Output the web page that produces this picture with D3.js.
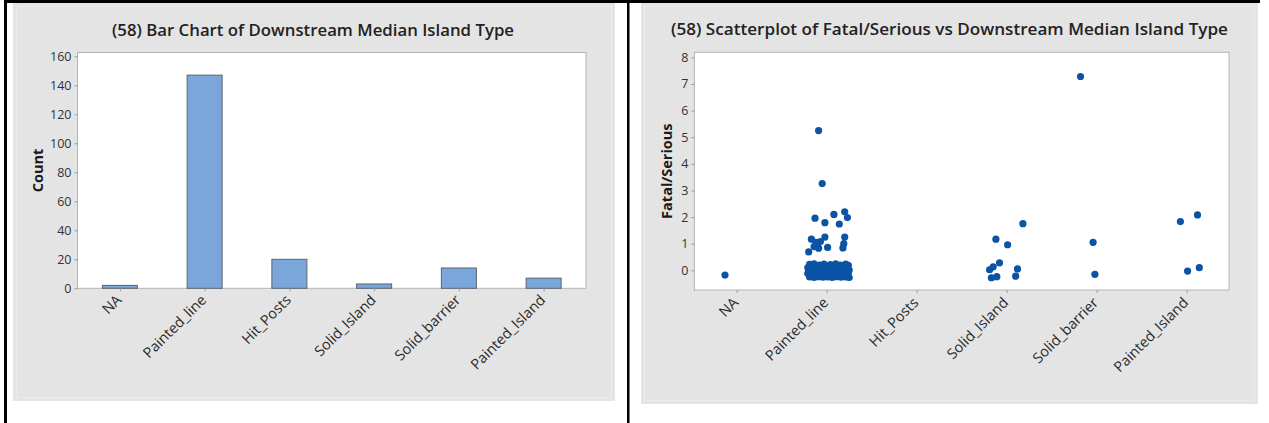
<!DOCTYPE html>
<html>
<head>
<meta charset="utf-8">
<script src="https://cdn.jsdelivr.net/npm/d3@7/dist/d3.min.js"></script>
<style>
  html, body { margin: 0; padding: 0; background: #ffffff; }
  svg { display: block; }
  text { font-family: "Open Sans", "Noto Sans", sans-serif; }
</style>
</head>
<body>
<svg id="chart" width="1269" height="423"></svg>
<script>
// Island type categories shared by both panels
const categories = ["NA", "Painted_line", "Hit_Posts", "Solid_Island", "Solid_barrier", "Painted_Island"];

// Bar chart: record count per downstream median island type
const counts = [2, 147, 20, 3, 14, 7];
const countTicks = [0, 20, 40, 60, 80, 100, 120, 140, 160];

// Scatterplot: Fatal/Serious values, each with its horizontal jitter (fraction of a category step)
const naPoints = [[-0.13, -0.18]];
const paintedLinePoints = [
  [-0.09, 5.25], [-0.05, 3.26],
  [-0.13, 1.96], [-0.02, 1.79], [0.08, 2.10], [0.14, 1.74], [0.20, 2.20], [0.23, 1.98],
  [-0.20, 0.69], [-0.17, 1.17], [-0.14, 0.89], [-0.09, 0.83], [-0.07, 1.08], [-0.02, 1.25],
  [0.01, 0.86], [-0.12, 1.05], [0.18, 0.84], [0.20, 1.25], [0.19, 1.00],
  [-0.19, 0.22], [-0.14, 0.24], [-0.08, 0.20], [-0.03, 0.23], [0.04, 0.21], [0.10, 0.24], [0.15, 0.20], [0.21, 0.23], [0.24, 0.19],
  [-0.21, 0.10], [-0.16, 0.08], [-0.11, 0.12], [-0.05, 0.09], [0.01, 0.11], [0.07, 0.08], [0.13, 0.12], [0.18, 0.09], [0.23, 0.10],
  [-0.20, 0.00], [-0.15, -0.02], [-0.10, 0.01], [-0.06, -0.01], [0.00, 0.02], [0.05, -0.02], [0.12, 0.00], [0.16, 0.02], [0.20, -0.01], [0.25, 0.01],
  [-0.21, -0.12], [-0.17, -0.10], [-0.12, -0.13], [-0.07, -0.11], [-0.02, -0.12], [0.03, -0.10], [0.09, -0.13], [0.14, -0.11], [0.19, -0.12], [0.24, -0.10],
  [-0.19, -0.25], [-0.14, -0.27], [-0.09, -0.24], [-0.04, -0.26], [0.01, -0.25], [0.06, -0.27], [0.11, -0.24], [0.16, -0.26], [0.21, -0.25], [0.25, -0.27]
];
const hitPostsPoints = [];
const solidIslandPoints = [
  [0.18, 1.75], [-0.12, 1.17], [0.01, 0.96], [-0.08, 0.28], [-0.15, 0.13],
  [-0.19, 0.02], [-0.17, -0.28], [-0.11, -0.24], [0.12, 0.05], [0.10, -0.22]
];
const solidBarrierPoints = [[-0.18, 7.28], [-0.04, 1.05], [-0.02, -0.15]];
const paintedIslandPoints = [[-0.07, 1.83], [0.12, 2.08], [0.01, -0.03], [0.14, 0.10]];
const severityTicks = [0, 1, 2, 3, 4, 5, 6, 7, 8];

const pointGroups = [naPoints, paintedLinePoints, hitPostsPoints, solidIslandPoints, solidBarrierPoints, paintedIslandPoints];

const svg = d3.select("#chart");

// Table cell borders
svg.append("rect").attr("x", 4).attr("y", 0).attr("width", 1256).attr("height", 3).attr("fill", "#000");
svg.append("rect").attr("x", 4).attr("y", 0).attr("width", 3).attr("height", 423).attr("fill", "#000");
svg.append("rect").attr("x", 627).attr("y", 0).attr("width", 2.5).attr("height", 423).attr("fill", "#000");

function panel(x, y, w, h) {
  svg.append("rect").attr("x", x).attr("y", y).attr("width", w).attr("height", h).attr("fill", "#e4e4e4");
  svg.append("rect").attr("x", x + 3.5).attr("y", y + 3.5).attr("width", w - 7).attr("height", h - 7)
    .attr("fill", "none").attr("stroke", "#ececec").attr("stroke-width", 1);
}

function styleAxis(g) {
  g.select(".domain").remove();
  g.selectAll(".tick line").attr("stroke", "#9a9a9a");
  g.selectAll(".tick text").attr("fill", "#333");
}

// ---------- Left: bar chart ----------
panel(13, 3, 602, 398);
const L = { x0: 77.5, x1: 586, y0: 52.5, y1: 288.3 };
const xBand = d3.scaleBand().domain(categories).range([L.x0, L.x1]).padding(0);
const yCount = d3.scaleLinear().domain([0, 162.6]).range([L.y1, L.y0]);

svg.append("rect").attr("x", L.x0).attr("y", L.y0).attr("width", L.x1 - L.x0).attr("height", L.y1 - L.y0)
  .attr("fill", "#ffffff").attr("stroke", "#b4b4b4").attr("stroke-width", 1);

const barW = 35;
svg.append("g").selectAll("rect").data(categories).join("rect")
  .attr("x", (d) => xBand(d) + xBand.bandwidth() / 2 - barW / 2)
  .attr("y", (d, i) => yCount(counts[i]))
  .attr("width", barW)
  .attr("height", (d, i) => yCount(0) - yCount(counts[i]))
  .attr("fill", "#7ba6da")
  .attr("stroke", "#5a6470")
  .attr("stroke-width", 1);

const gyL = svg.append("g").attr("transform", `translate(${L.x0},0)`)
  .call(d3.axisLeft(yCount).tickValues(countTicks).tickSize(3).tickPadding(3));
styleAxis(gyL);
gyL.selectAll(".tick text").attr("font-size", 12.5);

const gxL = svg.append("g").attr("transform", `translate(0,${L.y1})`)
  .call(d3.axisBottom(d3.scalePoint().domain(categories).range([xBand(categories[0]) + xBand.bandwidth() / 2, xBand(categories[5]) + xBand.bandwidth() / 2])).tickSize(3).tickFormat(""));
styleAxis(gxL);

svg.append("g").selectAll("text").data(categories).join("text")
  .attr("transform", (d) => `translate(${xBand(d) + xBand.bandwidth() / 2 - 1},${L.y1 + 9}) rotate(-45)`)
  .attr("text-anchor", "end").attr("dy", "0.35em")
  .attr("font-size", 14.5).attr("fill", "#2a2a2a")
  .text((d) => d);

svg.append("text")
  .attr("transform", `translate(43,${(L.y0 + L.y1) / 2}) rotate(-90)`)
  .attr("text-anchor", "middle").attr("font-size", 14.5).attr("font-weight", 700).attr("fill", "#1a1a1a")
  .text("Count");

svg.append("text")
  .attr("x", 313).attr("y", 36).attr("text-anchor", "middle")
  .attr("font-size", 16.5).attr("font-weight", 600).attr("fill", "#222")
  .attr("textLength", 402).attr("lengthAdjust", "spacingAndGlyphs")
  .text("(58) Bar Chart of Downstream Median Island Type");

// ---------- Right: scatterplot ----------
panel(641, 3, 617, 401);
const R = { x0: 694.4, x1: 1229, y0: 52.3, y1: 290 };
const xPoint = d3.scalePoint().domain(categories).range([R.x0, R.x1]).padding(0.47);
const ySev = d3.scaleLinear().domain([-0.74, 8.19]).range([R.y1, R.y0]);

svg.append("rect").attr("x", R.x0).attr("y", R.y0).attr("width", R.x1 - R.x0).attr("height", R.y1 - R.y0)
  .attr("fill", "#ffffff").attr("stroke", "#b4b4b4").attr("stroke-width", 1);

const gyR = svg.append("g").attr("transform", `translate(${R.x0},0)`)
  .call(d3.axisLeft(ySev).tickValues(severityTicks).tickSize(3).tickPadding(3));
styleAxis(gyR);
gyR.selectAll(".tick text").attr("font-size", 12.5);

const gxR = svg.append("g").attr("transform", `translate(0,${R.y1})`)
  .call(d3.axisBottom(xPoint).tickSize(3).tickFormat(""));
styleAxis(gxR);

svg.append("g").selectAll("text").data(categories).join("text")
  .attr("transform", (d) => `translate(${xPoint(d) - 1},${R.y1 + 10}) rotate(-45)`)
  .attr("text-anchor", "end").attr("dy", "0.35em")
  .attr("font-size", 14.5).attr("fill", "#2a2a2a")
  .text((d) => d);

const step = xPoint.step();
const pts = [];
pointGroups.forEach((grp, i) => grp.forEach(([j, v]) => pts.push({ cat: categories[i], j, v })));
svg.append("g").selectAll("circle").data(pts).join("circle")
  .attr("cx", (d) => xPoint(d.cat) + d.j * step)
  .attr("cy", (d) => ySev(d.v))
  .attr("r", 3.6)
  .attr("fill", "#0b53a4");

svg.append("text")
  .attr("transform", `translate(672,${(R.y0 + R.y1) / 2}) rotate(-90)`)
  .attr("text-anchor", "middle").attr("font-size", 14.5).attr("font-weight", 700).attr("fill", "#1a1a1a")
  .text("Fatal/Serious");

svg.append("text")
  .attr("x", 949.5).attr("y", 35).attr("text-anchor", "middle")
  .attr("font-size", 16.5).attr("font-weight", 600).attr("fill", "#222")
  .attr("textLength", 557).attr("lengthAdjust", "spacingAndGlyphs")
  .text("(58) Scatterplot of Fatal/Serious vs Downstream Median Island Type");
</script>
</body>
</html>
